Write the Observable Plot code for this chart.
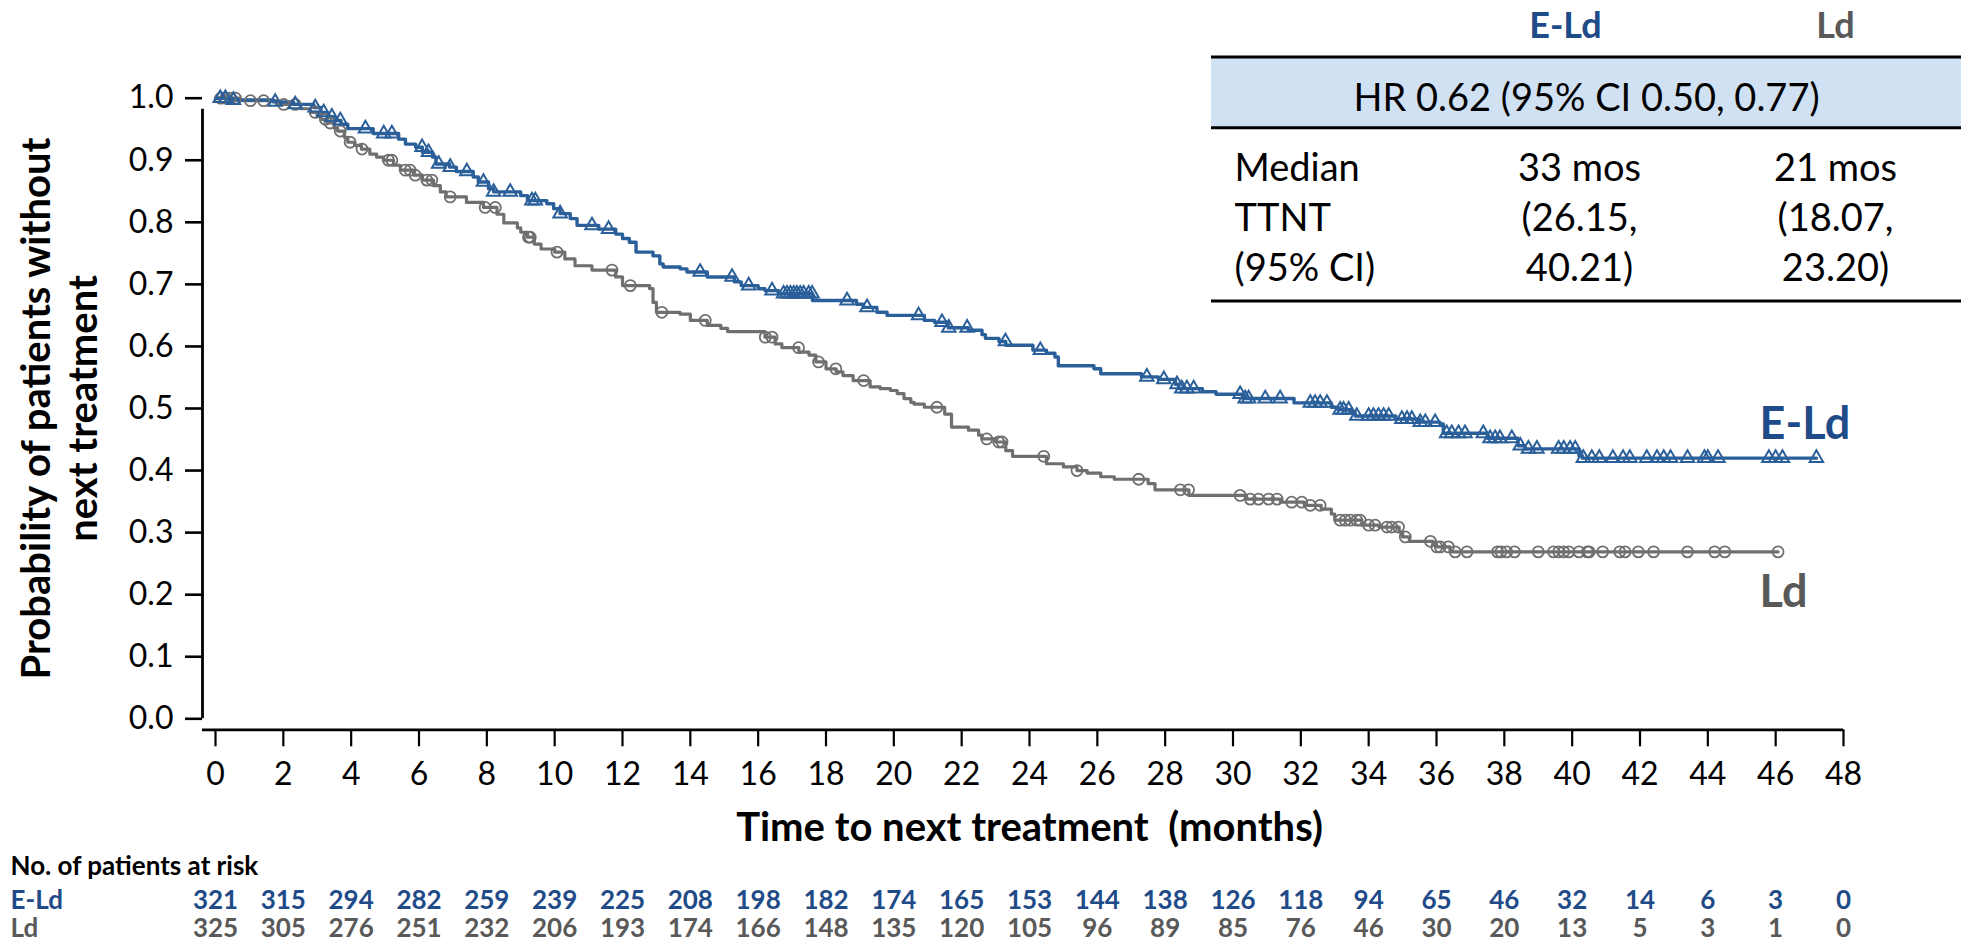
<!DOCTYPE html>
<html><head><meta charset="utf-8">
<script src="https://cdn.jsdelivr.net/npm/d3@7"></script>
<script src="https://cdn.jsdelivr.net/npm/@observablehq/plot@0.6"></script>
<style>
html,body{margin:0;padding:0;background:#fff;}
#chart{position:relative;width:1973px;height:947px;overflow:hidden;}
#chart svg{display:block;}
#chart svg text{white-space:pre;}
</style></head><body><div id="chart"></div>
<script>
// ---------- data ----------
const groupNames = ["E-Ld", "Ld"];

// Kaplan-Meier steps (month at which the step occurs, survival after step)
const eldMonths = [0,0.5,1.7,2.3,2.9,3.1,3.3,3.5,3.7,3.9,
  4.65,5.4,5.6,5.9,6.1,6.4,6.5,6.9,7.1,7.6,
  7.75,8.05,8.2,9.0,9.2,9.77,9.97,10.16,10.46,10.66,
  11.3,11.8,12.0,12.2,12.4,12.9,13.1,13.2,13.7,13.9,
  14.5,15.3,15.5,16.0,16.2,16.6,17.6,18.9,19.1,19.5,
  19.8,20.9,21.2,21.6,22.2,22.6,22.7,23.1,23.3,24.1,
  24.5,24.75,24.85,25.9,26.1,27.3,27.8,28.3,28.4,29.1,
  29.5,30.3,31.8,32.9,33.1,33.5,33.6,34.8,35.5,36.1,
  36.2,37.5,38.4,38.6,40.2,40.3,47.2];
const eldSurvival = [1.000,0.997,0.994,0.990,0.985,0.977,0.970,0.964,0.958,0.951,
  0.943,0.934,0.926,0.921,0.913,0.905,0.894,0.889,0.882,0.873,
  0.865,0.854,0.849,0.843,0.835,0.830,0.822,0.814,0.806,0.795,
  0.789,0.781,0.774,0.768,0.752,0.746,0.733,0.728,0.725,0.720,
  0.712,0.704,0.698,0.693,0.690,0.685,0.674,0.668,0.663,0.655,
  0.650,0.642,0.639,0.630,0.626,0.619,0.613,0.608,0.602,0.594,
  0.589,0.583,0.569,0.564,0.556,0.551,0.547,0.539,0.532,0.527,
  0.523,0.516,0.509,0.502,0.498,0.494,0.488,0.483,0.478,0.475,
  0.460,0.452,0.440,0.435,0.424,0.420,0.420];

const ldMonths = [0,0.7,1.8,2.5,2.8,3.0,3.1,3.3,3.5,3.6,
  3.8,3.9,4.1,4.3,4.55,4.75,4.95,5.25,5.45,5.84,
  6.1,6.43,6.63,6.8,7.4,7.9,8.3,8.5,8.9,9.0,
  9.2,9.4,9.6,10.0,10.3,10.6,11.1,11.8,12.0,12.8,
  12.9,13.0,13.7,14.0,14.5,14.9,15.1,16.2,16.5,16.7,
  17.2,17.5,17.7,18.0,18.3,18.5,18.8,19.3,19.6,19.9,
  20.1,20.3,20.5,20.6,20.9,21.5,21.7,22.2,22.5,22.6,
  23.0,23.3,23.5,24.5,25.0,25.4,25.7,26.1,26.5,27.5,
  27.7,28.7,30.4,31.4,32.1,32.6,32.9,33.0,33.8,34.3,
  34.9,35.0,35.2,35.9,36.0,36.4,46.07];
const ldSurvival = [1.000,0.996,0.990,0.983,0.977,0.971,0.966,0.960,0.952,0.947,
  0.937,0.929,0.924,0.918,0.910,0.905,0.900,0.892,0.884,0.876,
  0.868,0.859,0.849,0.841,0.832,0.824,0.813,0.799,0.791,0.784,
  0.776,0.765,0.757,0.752,0.741,0.730,0.723,0.712,0.698,0.693,
  0.671,0.655,0.652,0.642,0.634,0.629,0.624,0.615,0.604,0.598,
  0.591,0.586,0.575,0.564,0.559,0.553,0.545,0.535,0.532,0.529,
  0.524,0.516,0.510,0.507,0.502,0.491,0.470,0.465,0.457,0.451,
  0.446,0.432,0.423,0.411,0.406,0.400,0.396,0.390,0.386,0.379,
  0.369,0.360,0.354,0.349,0.344,0.338,0.330,0.320,0.312,0.309,
  0.301,0.293,0.286,0.282,0.277,0.269,0.269];

// censoring times (months)
const eldCensored = [0.14,0.29,0.53,1.76,2.35,2.94,3.19,3.43,3.68,4.42,4.96,5.2,6.09,6.28,6.58,6.92,7.41,7.9,8.2,8.69,
  9.33,9.43,10.16,11.1,11.59,14.29,15.23,15.72,16.41,16.75,16.85,16.95,17.05,17.14,17.24,17.34,17.49,17.59,18.62,19.21,
  20.73,21.42,21.62,22.16,23.29,24.32,27.46,27.96,28.35,28.49,28.64,28.84,30.21,30.36,30.46,30.95,31.39,32.28,32.42,32.57,
  32.77,33.16,33.26,33.41,33.65,34.0,34.14,34.29,34.44,34.59,34.98,35.13,35.27,35.52,35.67,35.96,36.3,36.45,36.65,36.84,
  37.38,37.58,37.73,37.87,38.22,38.47,38.71,38.96,39.6,39.75,39.94,40.09,40.33,40.58,40.8,41.2,41.5,41.7,42.2,42.5,
  42.7,42.9,43.4,43.9,44.0,44.3,45.8,46.0,46.2,47.2];
const ldCensored = [0.15,0.3,0.44,0.59,1.03,1.42,2.01,2.35,2.94,3.24,3.38,3.68,3.97,4.32,5.1,5.2,5.6,5.74,5.89,6.23,
  6.38,6.92,7.95,8.25,9.23,9.28,10.07,11.69,12.23,13.16,14.44,16.21,16.41,17.19,17.78,18.29,19.11,21.27,22.74,23.09,
  23.19,24.42,25.4,27.22,28.45,28.69,30.21,30.51,30.75,31.05,31.3,31.73,32.03,32.28,32.57,33.16,33.31,33.46,33.65,33.75,
  34.0,34.19,34.54,34.68,34.88,35.08,35.82,36.01,36.11,36.35,36.55,36.9,37.8,37.9,38.07,38.3,39.0,39.45,39.6,39.75,
  39.9,40.2,40.45,40.5,40.9,41.4,41.56,41.95,42.4,43.4,44.2,44.5,46.07];

// numbers at risk
const riskMonths = [0,2,4,6,8,10,12,14,16,18,20,22,24,26,28,30,32,34,36,38,40,42,44,46,48];
const eldAtRisk = [321,315,294,282,259,239,225,208,198,182,174,165,153,144,138,126,118,94,65,46,32,14,6,3,0];
const ldAtRisk  = [325,305,276,251,232,206,193,174,166,148,135,120,105,96,89,85,76,46,30,20,13,5,3,1,0];

// ticks and texts
const xTicks = [0,2,4,6,8,10,12,14,16,18,20,22,24,26,28,30,32,34,36,38,40,42,44,46,48];
const yTicks = [0,0.1,0.2,0.3,0.4,0.5,0.6,0.7,0.8,0.9,1.0];
const xTitle = "Time to next treatment  (months)";
const yTitleLines = ["Probability of patients without", "next treatment"];
const riskTitle = "No. of patients at risk";
const hrText = "HR 0.62 (95% CI 0.50, 0.77)";
const medianLabels = ["Median", "TTNT", "(95% CI)"];
const eldMedian = ["33 mos", "(26.15,", "40.21)"];
const ldMedian = ["21 mos", "(18.07,", "23.20)"];

// ---------- build ----------
const W = 1973, H = 947, ML = 215, MR = 130, MT = 97.7, MB = 228.7;
const FONT = "Lato, 'Open Sans', sans-serif";
const BLUE_LINE = "#2a5f9a", BLUE_TEXT = "#1f4b88", GRAY_LINE = "#6f6f6f", GRAY_TEXT = "#595959";

const steps = (m, s) => m.map((t, i) => ({t, s: s[i]}));
const eld = steps(eldMonths, eldSurvival);
const ld = steps(ldMonths, ldSurvival);
function survAt(data, t) {
  let v = data[0].s;
  for (const d of data) { if (d.t <= t + 1e-9) v = d.s; else break; }
  return v;
}
const eldCens = eldCensored.map(t => ({t, s: survAt(eld, t)}));
const ldCens = ldCensored.map(t => ({t, s: survAt(ld, t)}));
const eldRisk = riskMonths.map((m, i) => ({m, n: eldAtRisk[i]}));
const ldRisk = riskMonths.map((m, i) => ({m, n: ldAtRisk[i]}));

function note(txt, x, baseline, o = {}) {
  return Plot.text([txt], {
    text: d => d, frameAnchor: "top-left", dx: x - ML, dy: baseline - MT,
    lineAnchor: "bottom", textAnchor: o.anchor || "start",
    fontSize: o.size || 38, fontWeight: o.weight || "normal",
    fill: o.fill || "black", fontFamily: FONT
  });
}

const tableFrame = () => {
  const g = d3.create("svg:g");
  g.append("rect").attr("x", 1211).attr("y", 57).attr("width", 750).attr("height", 70.7).attr("fill", "#d0e1f3");
  for (const y of [57, 127.7, 301]) {
    g.append("line").attr("x1", 1211).attr("x2", 1961).attr("y1", y).attr("y2", y)
      .attr("stroke", "black").attr("stroke-width", 3);
  }
  return g.node();
};

const tableRows = [];
medianLabels.forEach((t, i) => {
  const b = 180 + i * 50;
  tableRows.push(note(t, 1234, b, {size: 38}));
  tableRows.push(note(eldMedian[i], 1579, b, {size: 38, anchor: "middle"}));
  tableRows.push(note(ldMedian[i], 1835, b, {size: 38, anchor: "middle"}));
});

const chart = Plot.plot({
  width: W, height: H,
  marginLeft: ML, marginRight: MR, marginTop: MT, marginBottom: MB,
  x: {domain: [0, 48]},
  y: {domain: [0, 1]},
  style: {background: "white", color: "black", fontFamily: FONT, overflow: "visible"},
  marks: [
    tableFrame,
    // axis lines (offset L-shape)
    Plot.ruleX([0], {y1: 0, y2: 1, dx: -13, insetBottom: -11, stroke: "black", strokeWidth: 2.8}),
    Plot.ruleY([0], {x1: 0, x2: 48, dy: 11, insetLeft: -13, stroke: "black", strokeWidth: 2.8}),
    Plot.axisY({ticks: yTicks, tickFormat: d => d.toFixed(1), tickSize: 17, tickPadding: 12, dx: -13,
      fontSize: 32, fontFamily: FONT, stroke: "black", fill: "black", strokeWidth: 2.6, label: null}),
    Plot.axisX({ticks: xTicks, tickFormat: d => String(d), tickSize: 17, tickPadding: 15, dy: 11,
      fontSize: 32, fontFamily: FONT, stroke: "black", fill: "black", strokeWidth: 2.2, label: null}),
    // curves
    Plot.line(ld, {x: "t", y: "s", curve: "step-after", stroke: GRAY_LINE, strokeWidth: 3.2}),
    Plot.line(eld, {x: "t", y: "s", curve: "step-after", stroke: BLUE_LINE, strokeWidth: 3.4}),
    Plot.dot(ldCens, {x: "t", y: "s", r: 5.5, symbol: "circle", stroke: GRAY_LINE, fill: "none", strokeWidth: 1.8}),
    Plot.dot(eldCens, {x: "t", y: "s", r: 5, symbol: "triangle", stroke: BLUE_LINE, fill: "none", strokeWidth: 2}),
    // curve labels
    note(groupNames[0], 1759, 438, {size: 45, weight: "bold", fill: BLUE_TEXT}),
    note(groupNames[1], 1759, 606, {size: 45, weight: "bold", fill: GRAY_TEXT}),
    // axis titles
    note(xTitle, 1029, 840, {size: 40, weight: "bold", anchor: "middle"}),
    Plot.text([yTitleLines[0]], {text: d => d, frameAnchor: "left", dx: 49 - ML, rotate: -90, lineAnchor: "bottom",
      textAnchor: "middle", fontSize: 40, fontWeight: "bold", fontFamily: FONT, fill: "black"}),
    Plot.text([yTitleLines[1]], {text: d => d, frameAnchor: "left", dx: 96 - ML, rotate: -90, lineAnchor: "bottom",
      textAnchor: "middle", fontSize: 40, fontWeight: "bold", fontFamily: FONT, fill: "black"}),
    // risk table
    note(riskTitle, 10, 874, {size: 26, weight: "bold"}),
    note(groupNames[0], 10, 908, {size: 26, weight: "bold", fill: BLUE_TEXT}),
    note(groupNames[1], 10, 936.5, {size: 26, weight: "bold", fill: GRAY_TEXT}),
    Plot.text(eldRisk, {x: "m", text: d => String(d.n), frameAnchor: "bottom", dy: 908 - (H - MB), lineAnchor: "bottom",
      fontSize: 26, fontWeight: "bold", fill: BLUE_TEXT, fontFamily: FONT}),
    Plot.text(ldRisk, {x: "m", text: d => String(d.n), frameAnchor: "bottom", dy: 936.5 - (H - MB), lineAnchor: "bottom",
      fontSize: 26, fontWeight: "bold", fill: GRAY_TEXT, fontFamily: FONT}),
    // HR table
    note(groupNames[0], 1565, 38, {size: 36, weight: "bold", fill: BLUE_TEXT, anchor: "middle"}),
    note(groupNames[1], 1835, 38, {size: 36, weight: "bold", fill: GRAY_TEXT, anchor: "middle"}),
    note(hrText, 1586, 110, {size: 38, anchor: "middle"}),
    ...tableRows
  ]
});
document.getElementById("chart").appendChild(chart);
</script></body></html>
